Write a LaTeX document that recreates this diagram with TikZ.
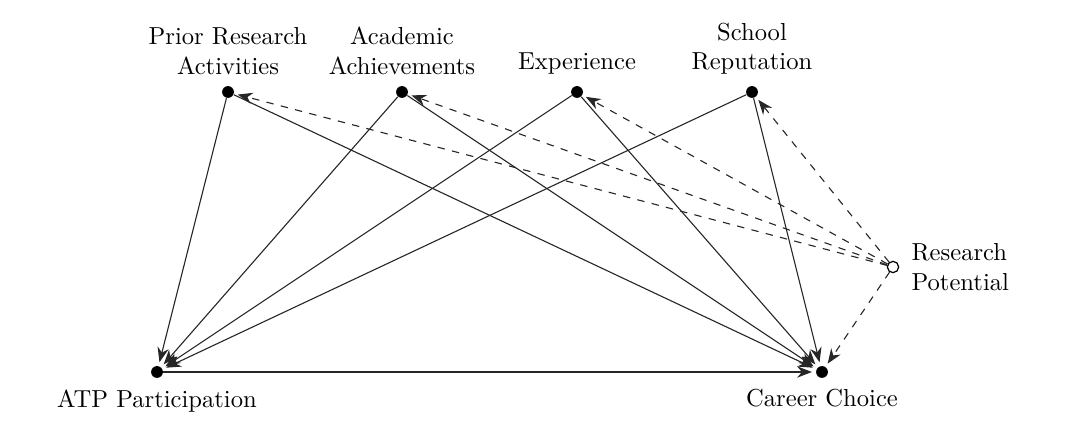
\documentclass[tikz,border=0pt]{standalone}
\usepackage{tikz}
\usetikzlibrary{arrows.meta,positioning}
\tikzset{
  vtx/.style={circle,fill=black,inner sep=0pt,minimum size=4.8pt},
  vtxo/.style={circle,draw=black,fill=white,inner sep=0pt,minimum size=4.6pt,line width=0.5pt},
  arr/.style={-{Stealth[length=6pt,width=4.6pt]},line width=0.45pt,color=black!85,shorten >=1.5pt},
  arrd/.style={arr,dashed},
  lbl/.style={align=center},
}
\begin{document}
\begin{tikzpicture}[x=0.0143cm,y=-0.0143cm]
\useasboundingbox (0,0) rectangle (1080,425);
% top row of predictors
\node[vtx] (pra) at (228,92) {};
\node[vtx] (aca) at (402,92) {};
\node[vtx] (exp) at (577,92) {};
\node[vtx] (rep) at (752,92) {};
\node[lbl,above=1pt of pra] {Prior Research\\Activities};
\node[lbl,above=1pt of aca] {Academic\\Achievements};
\node[lbl,above=1pt of exp] {Experience};
\node[lbl,above=1pt of rep] {School\\Reputation};
% latent variable
\node[vtxo] (rp) at (893,267) {};
\node[lbl,align=left,right=1.5pt of rp] {Research\\Potential};
% outcomes
\node[vtx] (atp) at (157,372) {};
\node[vtx] (cc) at (822,372) {};
\node[lbl,below=1pt of atp] {ATP Participation};
\node[lbl,below=1pt of cc] {Career Choice};
% solid paths
\foreach \v in {pra,aca,exp,rep}{
  \draw[arr] (\v)--(atp); \draw[arr] (\v)--(cc);
}
\draw[arr] (atp)--(cc);
% dashed paths from research potential
\foreach \v in {pra,aca,exp,rep,cc}{
  \draw[arrd] (rp)--(\v);
}
\end{tikzpicture}
\end{document}
